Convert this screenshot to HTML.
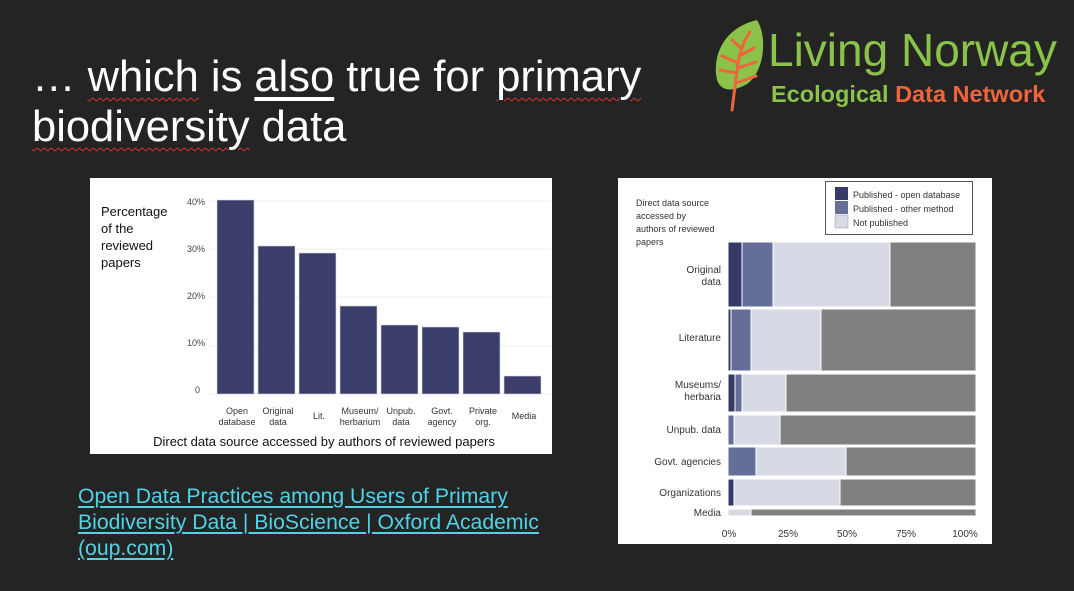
<!DOCTYPE html>
<html><head><meta charset="utf-8"><style>
body{margin:0;width:1074px;height:591px;background:#242424;position:relative;overflow:hidden;font-family:"Liberation Sans",sans-serif}
.a{position:absolute}
.t{color:#fff;font-size:43.5px;line-height:50px;left:32px;white-space:nowrap}
.sq{text-decoration:underline wavy #d33;text-decoration-thickness:1px;text-underline-offset:6px}
.lk{color:#4fd3e6;font-size:21.2px;left:78px;text-decoration:underline;text-underline-offset:3px;line-height:26px;white-space:nowrap}
</style></head><body>
<div class="a t" style="top:52px">… <span class="sq">which</span> is <span style="text-decoration:underline;text-underline-offset:6px">also</span> true for <span class="sq">primary</span></div>
<div class="a t" style="top:102px"><span class="sq">biodiversity</span> data</div>

<svg class="a" style="left:712px;top:18px" width="60" height="96" viewBox="0 0 60 96">
<path d="M45 2 C10 10 0 40 5 62 C10 76 25 72 35 66 C52 54 56 20 45 2Z" fill="#8bc34a"/>
<g stroke="#f0643c" stroke-width="3" fill="none" stroke-linecap="round">
<path d="M20 92 L26 45 Q30 25 38 14"/><path d="M26 45 L10 38"/><path d="M27 38 L42 30"/><path d="M25 55 L8 52"/><path d="M26 50 L44 44"/><path d="M24 65 L44 58"/><path d="M29 30 L20 22"/></g></svg>
<div class="a" style="left:768px;top:24px;color:#8bc34a;font-size:46px;line-height:52px">Living Norway</div>
<div class="a" style="left:771px;top:80px;font-size:23.5px;font-weight:bold;line-height:28px;white-space:nowrap"><span style="color:#8bc34a">Ecological</span> <span style="color:#f0643c">Data Network</span></div>

<svg class="a" style="left:90px;top:178px" width="462" height="276" viewBox="90 178 462 276">
<rect x="90" y="178" width="462" height="276" fill="#fff"/>
<g stroke="#eee" stroke-width="1">
<line x1="210" x2="550" y1="201" y2="201"/><line x1="210" x2="550" y1="249" y2="249"/><line x1="210" x2="550" y1="297" y2="297"/><line x1="210" x2="550" y1="346" y2="346"/><line x1="210" x2="550" y1="394" y2="394"/></g>
<g fill="#3b3d6a" stroke="#d8d8e0" stroke-width="0.6">
<rect x="217" y="200" width="37" height="194"/><rect x="258" y="246" width="37" height="148"/><rect x="299" y="253" width="37" height="141"/><rect x="340" y="306" width="37" height="88"/><rect x="381" y="325" width="37" height="69"/><rect x="422" y="327" width="37" height="67"/><rect x="463" y="332" width="37" height="62"/><rect x="504" y="376" width="37" height="18"/></g>
<g font-size="9" fill="#444" text-anchor="end" font-family="Liberation Sans"><text x="205" y="205">40%</text><text x="205" y="252">30%</text><text x="205" y="299">20%</text><text x="205" y="346">10%</text><text x="200" y="393">0</text></g>
<g font-size="13" fill="#111" font-family="Liberation Sans"><text x="101" y="216">Percentage</text><text x="101" y="233">of the</text><text x="101" y="250">reviewed</text><text x="101" y="267">papers</text></g>
<g font-size="9" fill="#333" text-anchor="middle" font-family="Liberation Sans">
<text x="237" y="414">Open</text><text x="237" y="425">database</text>
<text x="278" y="414">Original</text><text x="278" y="425">data</text>
<text x="319" y="419">Lit.</text>
<text x="360" y="414">Museum/</text><text x="360" y="425">herbarium</text>
<text x="401" y="414">Unpub.</text><text x="401" y="425">data</text>
<text x="442" y="414">Govt.</text><text x="442" y="425">agency</text>
<text x="483" y="414">Private</text><text x="483" y="425">org.</text>
<text x="524" y="419">Media</text></g>
<text x="324" y="446" font-size="13" fill="#111" text-anchor="middle" font-family="Liberation Sans">Direct data source accessed by authors of reviewed papers</text>
</svg>

<svg class="a" style="left:618px;top:178px" width="374" height="366" viewBox="618 178 374 366">
<rect x="618" y="178" width="374" height="366" fill="#fff"/>
<g stroke="#fff" stroke-width="1">
<rect x="728" y="242" width="248" height="65" fill="#808080"/>
<rect x="728" y="242" width="162" height="65" fill="#d7d9e4"/><rect x="728" y="242" width="45" height="65" fill="#656d99"/><rect x="728" y="242" width="14" height="65" fill="#363a66"/>
<rect x="728" y="309" width="248" height="62" fill="#808080"/>
<rect x="728" y="309" width="93" height="62" fill="#d7d9e4"/><rect x="728" y="309" width="23" height="62" fill="#656d99"/><rect x="728" y="309" width="3" height="62" fill="#363a66"/>
<rect x="728" y="374" width="248" height="38" fill="#808080"/>
<rect x="728" y="374" width="58" height="38" fill="#d7d9e4"/><rect x="728" y="374" width="14" height="38" fill="#656d99"/><rect x="728" y="374" width="7" height="38" fill="#363a66"/>
<rect x="728" y="415" width="248" height="30" fill="#808080"/>
<rect x="728" y="415" width="52" height="30" fill="#d7d9e4"/><rect x="728" y="415" width="6" height="30" fill="#656d99"/>
<rect x="728" y="447" width="248" height="29" fill="#808080"/>
<rect x="728" y="447" width="118" height="29" fill="#d7d9e4"/><rect x="728" y="447" width="28" height="29" fill="#656d99"/>
<rect x="728" y="479" width="248" height="27" fill="#808080"/>
<rect x="728" y="479" width="112" height="27" fill="#d7d9e4"/><rect x="728" y="479" width="6" height="27" fill="#363a66"/>
<rect x="728" y="509" width="248" height="7" fill="#808080"/>
<rect x="728" y="509" width="23" height="7" fill="#d7d9e4"/>
</g>
<rect x="825.5" y="181.5" width="147" height="53" fill="#fff" stroke="#555"/>
<rect x="835" y="187" width="13" height="13" fill="#363a66"/><rect x="835" y="201" width="13" height="13" fill="#656d99"/><rect x="835" y="215" width="13" height="13" fill="#d7d9e4" stroke="#999" stroke-width="0.5"/>
<g font-size="9" fill="#333" font-family="Liberation Sans"><text x="853" y="198">Published - open database</text><text x="853" y="212">Published - other method</text><text x="853" y="226">Not published</text>
<text x="636" y="206">Direct data source</text><text x="636" y="219">accessed by</text><text x="636" y="232">authors of reviewed</text><text x="636" y="245">papers</text></g>
<g font-size="10" fill="#333" text-anchor="end" font-family="Liberation Sans">
<text x="721" y="273">Original</text><text x="721" y="285">data</text>
<text x="721" y="341">Literature</text>
<text x="721" y="388">Museums/</text><text x="721" y="400">herbaria</text>
<text x="721" y="433">Unpub. data</text>
<text x="721" y="465">Govt. agencies</text>
<text x="721" y="496">Organizations</text>
<text x="721" y="516">Media</text></g>
<g font-size="10" fill="#333" text-anchor="middle" font-family="Liberation Sans"><text x="729" y="537">0%</text><text x="788" y="537">25%</text><text x="847" y="537">50%</text><text x="906" y="537">75%</text><text x="965" y="537">100%</text></g>
</svg>

<div class="a lk" style="top:484px">Open Data Practices among Users of Primary<br>Biodiversity Data | BioScience | Oxford Academic<br>(oup.com)</div>
</body></html>
